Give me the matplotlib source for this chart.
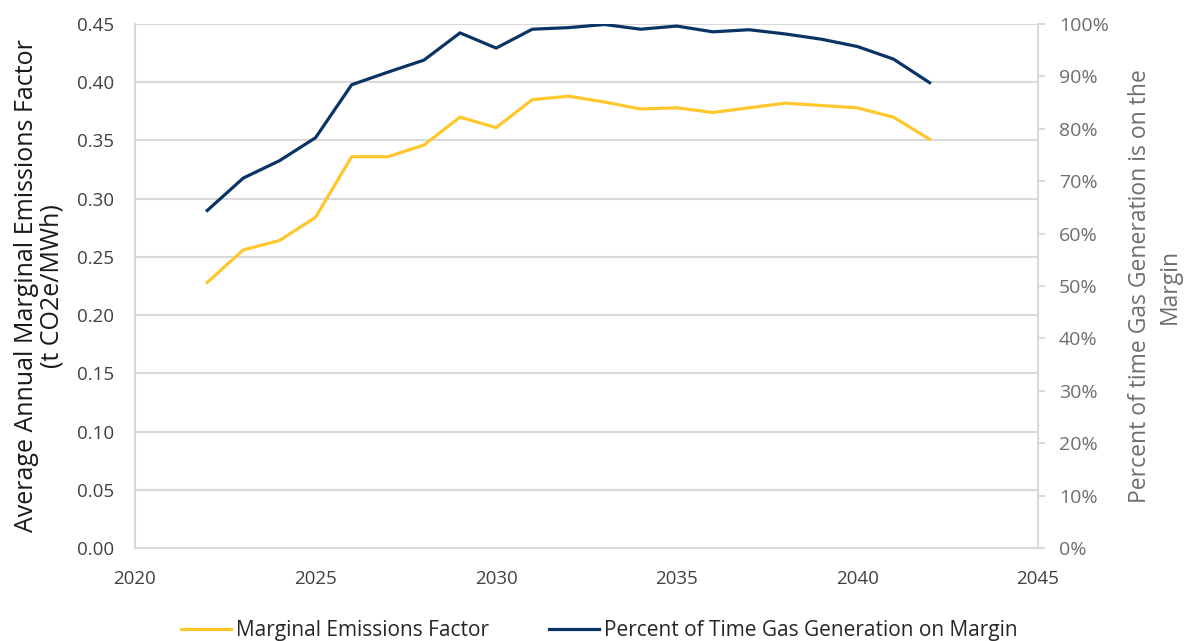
import matplotlib
matplotlib.use("Agg")
import matplotlib.pyplot as plt
from matplotlib.ticker import MultipleLocator, FuncFormatter

plt.rcParams['font.family'] = ['Open Sans', 'DejaVu Sans']

years = list(range(2022, 2043))
emissions_factor = [0.228, 0.256, 0.264, 0.284, 0.336, 0.336, 0.346, 0.370, 0.361, 0.385,
                    0.388, 0.383, 0.377, 0.378, 0.374, 0.378, 0.382, 0.380, 0.378, 0.370, 0.351]
gas_margin_pct = [64.4, 70.6, 73.9, 78.3, 88.4, 90.8, 93.1, 98.3, 95.4, 99.0,
                  99.3, 99.9, 99.0, 99.6, 98.5, 98.9, 98.1, 97.1, 95.7, 93.3, 88.8]

yellow = '#FFC72C'
navy = '#0B3466'
grid_gray = '#D9D9D9'

fig = plt.figure(figsize=(11.88, 6.41), dpi=100)
ax = fig.add_axes([0.1136, 0.1451, 0.7601, 0.8175])
ax2 = ax.twinx()

l1, = ax.plot(years, emissions_factor, color=yellow, lw=2.3, label='Marginal Emissions Factor',
              solid_joinstyle='round')
l2, = ax2.plot(years, gas_margin_pct, color=navy, lw=2.3,
               label='Percent of Time Gas Generation on Margin', solid_joinstyle='round')

ax.set_xlim(2020, 2045)
ax.set_ylim(0, 0.45)
ax2.set_ylim(0, 100)
ax.xaxis.set_major_locator(MultipleLocator(5))
ax.yaxis.set_major_locator(MultipleLocator(0.05))
ax.yaxis.set_major_formatter(FuncFormatter(lambda v, p: f'{v:.2f}'))
ax2.yaxis.set_major_locator(MultipleLocator(10))
ax2.yaxis.set_major_formatter(FuncFormatter(lambda v, p: f'{v:.0f}%'))

ax.grid(axis='y', color=grid_gray, lw=1.5)
ax.set_axisbelow(True)

for a in (ax, ax2):
    a.spines['top'].set_visible(False)
    for s in ('left', 'right', 'bottom'):
        a.spines[s].set_color(grid_gray)
        a.spines[s].set_linewidth(1.5)
ax2.spines['left'].set_visible(False)
ax2.spines['bottom'].set_visible(False)

ax.tick_params(axis='y', length=0, labelsize=13.5, colors='#404040', pad=15)
ax.tick_params(axis='x', length=0, labelsize=13.5, colors='#404040', pad=16)
ax2.tick_params(axis='y', length=5, width=1.5, color=grid_gray, labelsize=14,
                labelcolor='#6E6E6E', pad=10)

ax.set_ylabel('Average Annual Marginal Emissions Factor\n(t CO2e/MWh)', fontsize=18,
              color='#1a1a1a', linespacing=1.05)
ax.yaxis.set_label_coords(-0.0775, 0.5)
ax2.set_ylabel('Percent of time Gas Generation is on the\nMargin', fontsize=16.5,
               color='#6E6E6E', linespacing=1.3)
ax2.yaxis.set_label_coords(1.1, 0.5)

fig.legend(handles=[l1, l2], loc='lower center', bbox_to_anchor=(0.5045, -0.03), ncol=2,
           frameon=False, fontsize=15, handlelength=2.4, columnspacing=2.9,
           handletextpad=0.25, labelcolor='#262626')

fig.savefig('out.png', dpi=100)
